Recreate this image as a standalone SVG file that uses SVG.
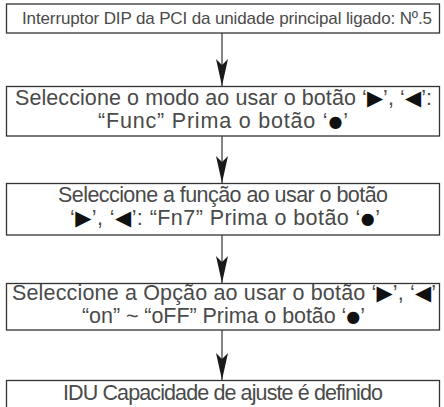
<svg xmlns="http://www.w3.org/2000/svg" width="444" height="407" viewBox="0 0 444 407">
<defs>
<style>
.box{fill:#fff;stroke:#333;stroke-width:1.3}
.t{font-family:"Liberation Sans",Arial,sans-serif;font-size:21.5px;fill:#4a4a4a;text-anchor:middle}
.t1{font-size:17px}
.g{font-family:"DejaVu Sans",sans-serif;font-size:21px;fill:#111}
.d{font-family:"DejaVu Sans",sans-serif;font-size:16px;fill:#111}
.c{stroke:#333;stroke-width:1.2;fill:none}
</style>
<marker id="ah" markerUnits="userSpaceOnUse" viewBox="0 0 27 12" markerWidth="27" markerHeight="12" refX="27" refY="6" orient="auto">
<path d="M0,0 L6,6 L0,12 L27,6 Z" fill="#1a1a1a"/>
</marker>
</defs>
<rect width="444" height="407" fill="#fff"/>
<g id="connectors">
<line class="c" x1="222" y1="33" x2="222" y2="86" marker-end="url(#ah)"/>
<line class="c" x1="222" y1="136" x2="222" y2="183" marker-end="url(#ah)"/>
<line class="c" x1="222" y1="235" x2="222" y2="283" marker-end="url(#ah)"/>
<line class="c" x1="222" y1="330" x2="222" y2="380" marker-end="url(#ah)"/>
</g>
<g id="n1">
<rect class="box" x="6.5" y="4" width="433" height="29"/>
<text class="t t1" x="227" y="24" textLength="410" lengthAdjust="spacing">Interruptor DIP da PCI da unidade principal ligado: Nº.5</text>
</g>
<g id="n2">
<rect class="box" x="6.5" y="86.5" width="433" height="49.5"/>
<text class="t" x="223.5" y="105" textLength="417" lengthAdjust="spacing">Seleccione o modo ao usar o botão ‘<tspan class="g">▶</tspan>’, ‘<tspan class="g">◀</tspan>’:</text>
<text class="t" x="223" y="128" textLength="250" lengthAdjust="spacing">“Func” Prima o botão ‘<tspan class="d" dy="-1.5">●</tspan><tspan dy="1.5">’</tspan></text>
</g>
<g id="n3">
<rect class="box" x="6.5" y="183.5" width="433" height="51.5"/>
<text class="t" x="223" y="202" textLength="330" lengthAdjust="spacing">Seleccione a função ao usar o botão</text>
<text class="t" x="225" y="225" textLength="310" lengthAdjust="spacing">‘<tspan class="g">▶</tspan>’, ‘<tspan class="g">◀</tspan>’: “Fn7” Prima o botão ‘<tspan class="d" dy="-1.5">●</tspan><tspan dy="1.5">’</tspan></text>
</g>
<g id="n4">
<rect class="box" x="6.5" y="283.5" width="433" height="46.5"/>
<text class="t" x="224" y="300" textLength="424" lengthAdjust="spacing">Seleccione a Opção ao usar o botão ‘<tspan class="g">▶</tspan>’, ‘<tspan class="g">◀</tspan>’</text>
<text class="t" x="223.5" y="323" textLength="283" lengthAdjust="spacing">“on” ~ “oFF” Prima o botão ‘<tspan class="d" dy="-1.5">●</tspan><tspan dy="1.5">’</tspan></text>
</g>
<g id="n5">
<rect class="box" x="6.5" y="380.5" width="433" height="40"/>
<text class="t" x="223" y="400" textLength="320" lengthAdjust="spacing">IDU Capacidade de ajuste é definido</text>
</g>
</svg>
